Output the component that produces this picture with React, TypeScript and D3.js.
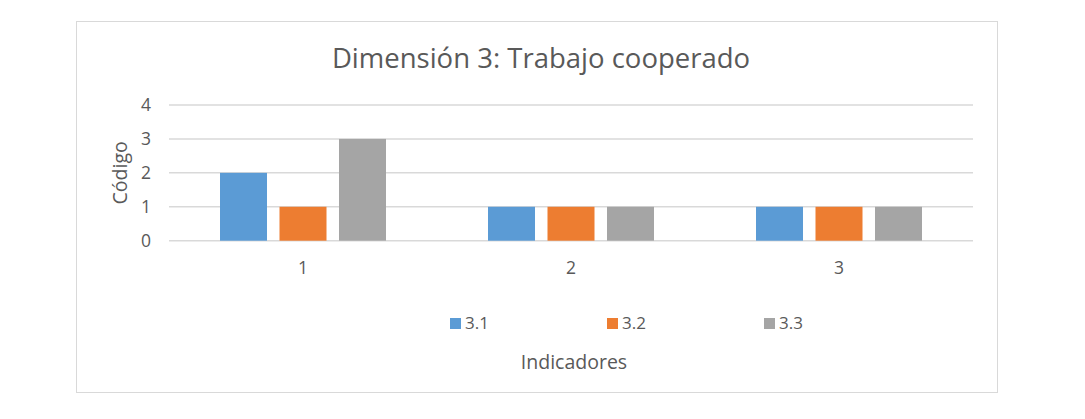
import React from "react";
import * as d3 from "d3";

const categories = ["1", "2", "3"];
const seriesNames = ["3.1", "3.2", "3.3"];
const seriesValues = [
  [2, 1, 1],
  [1, 1, 1],
  [3, 1, 1],
];
const seriesColors = ["#5B9BD5", "#ED7D31", "#A5A5A5"];
const yTicks = [0, 1, 2, 3, 4];
const title = "Dimensión 3: Trabajo cooperado";
const yTitle = "Código";
const xTitle = "Indicadores";

const W = 1085;
const H = 419;
const FONT = "'Open Sans', 'Noto Sans', sans-serif";
const TEXT = "#595959";

export default function App() {
  const plotL = 169, plotR = 973, plotT = 105, plotB = 240.7;
  const x = d3.scaleBand<string>().domain(categories).range([plotL, plotR]).padding(0);
  const y = d3.scaleLinear().domain([0, 4]).range([plotB, plotT]);
  const inner = d3
    .scaleBand<string>()
    .domain(seriesNames)
    .range([51, x.bandwidth() - 51])
    .paddingInner(0.21);

  const legendX = [450, 607, 764];

  return (
    <svg
      width={W}
      height={H}
      style={{ position: "absolute", left: 0, top: 0, background: "#fff" }}
      fontFamily={FONT}
    >
      <rect x={76.5} y={21.5} width={921} height={371} fill="#fff" stroke="#D9D9D9" strokeWidth={1} />
      <text x={541} y={68} textAnchor="middle" fontSize={27.5} fill={TEXT}>
        {title}
      </text>
      {yTicks.map((t) => (
        <g key={t}>
          <line x1={plotL} x2={plotR} y1={y(t)} y2={y(t)} stroke="#D9D9D9" strokeWidth={1.5} />
          <text x={151} y={y(t)} dy="0.35em" textAnchor="end" fontSize={17.5} fill={TEXT}>
            {t}
          </text>
        </g>
      ))}
      {categories.map((c, ci) => (
        <g key={c}>
          {seriesNames.map((s, si) => {
            const v = seriesValues[si][ci];
            return (
              <rect
                key={s}
                x={(x(c) as number) + (inner(s) as number)}
                y={y(v)}
                width={inner.bandwidth()}
                height={y(0) - y(v)}
                fill={seriesColors[si]}
              />
            );
          })}
          <text
            x={(x(c) as number) + x.bandwidth() / 2}
            y={268}
            dy="0.35em"
            textAnchor="middle"
            fontSize={17.5}
            fill={TEXT}
          >
            {c}
          </text>
        </g>
      ))}
      <text
        transform={`translate(120,${(plotT + plotB) / 2}) rotate(-90)`}
        textAnchor="middle"
        dy="0.35em"
        fontSize={19.5}
        fill={TEXT}
      >
        {yTitle}
      </text>
      {seriesNames.map((s, i) => (
        <g key={s}>
          <rect x={legendX[i]} y={318} width={11} height={11} fill={seriesColors[i]} />
          <text x={legendX[i] + 15} y={323.5} dy="0.35em" fontSize={17} fill={TEXT}>
            {s}
          </text>
        </g>
      ))}
      <text x={574} y={362} dy="0.35em" textAnchor="middle" fontSize={19.5} fill={TEXT}>
        {xTitle}
      </text>
    </svg>
  );
}
